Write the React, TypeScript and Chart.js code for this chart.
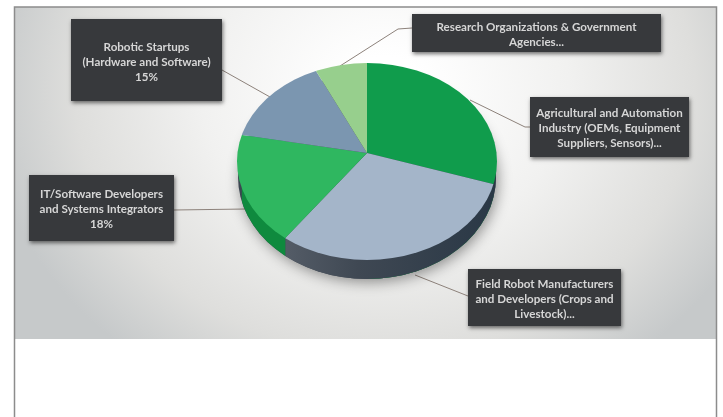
import React, { useEffect, useRef } from "react";
import { Chart, registerables } from "chart.js";

Chart.register(...registerables);

const categories = [
  "Agricultural and Automation Industry",
  "Field Robot Manufacturers and Developers",
  "IT/Software Developers and Systems Integrators",
  "Robotic Startups",
  "Research Organizations & Government Agencies",
];
const shares = [30, 30, 18, 15, 7];
const sliceColors = ["#109c4c", "#a4b5c9", "#2fb760", "#7b96b0", "#97cf8d"];

const agriLines = ["Agricultural and Automation", "Industry (OEMs, Equipment", "Suppliers, Sensors)..."];
const fieldLines = ["Field Robot Manufacturers", "and Developers (Crops and", "Livestock)..."];
const itLines = ["IT/Software Developers", "and Systems Integrators", "18%"];
const startupLines = ["Robotic Startups", "(Hardware and Software)", "15%"];
const researchLines = ["Research Organizations & Government", "Agencies..."];

const callouts = [
  { lines: agriLines, box: [530, 97, 159, 60], firstBase: 117, wire: [[530, 127], [525, 127], [470, 100]] },
  { lines: fieldLines, box: [468, 269, 153, 57], firstBase: 288, wire: [[468, 296], [415, 275]] },
  { lines: itLines, box: [29, 175, 145, 66], firstBase: 198, wire: [[174, 210], [246, 209]] },
  { lines: startupLines, box: [71, 19, 151, 82], firstBase: 51, wire: [[222, 70], [270, 97]] },
  { lines: researchLines, box: [412, 14, 249, 38], firstBase: 31, wire: [[412, 28], [398, 29], [340, 66]] },
];

const FACE = { dy: 8.5, rx: 130, ry: 98.5 };
const BASE = { dy: 24, rx: 129, ry: 102 };
const SQUASH = 0.757;

const pie3d = {
  id: "pie3d",
  beforeDraw(chart: any) {
    const { ctx } = chart;
    ctx.save();
    ctx.fillStyle = "#ffffff";
    ctx.fillRect(0, 0, 723, 417);
    ctx.save();
    ctx.beginPath();
    ctx.rect(15, 7, 702, 332);
    ctx.clip();
    ctx.translate(385, 90);
    ctx.scale(1, 0.85);
    const g = ctx.createRadialGradient(0, 0, 40, 0, 0, 400);
    g.addColorStop(0, "#ffffff");
    g.addColorStop(0.4, "#f1f1f0");
    g.addColorStop(0.75, "#dededc");
    g.addColorStop(1, "#c6c9ca");
    ctx.fillStyle = g;
    ctx.fillRect(-500, -400, 1000, 1000);
    ctx.restore();
    ctx.strokeStyle = "#8c8c8c";
    ctx.lineWidth = 1.5;
    ctx.beginPath();
    ctx.moveTo(14.5, 417);
    ctx.lineTo(14.5, 7);
    ctx.lineTo(716.5, 7);
    ctx.lineTo(716.5, 417);
    ctx.stroke();
    ctx.strokeStyle = "#8d827b";
    ctx.lineWidth = 1;
    callouts.forEach((c) => {
      ctx.beginPath();
      c.wire.forEach(([x, y], i) => (i ? ctx.lineTo(x, y) : ctx.moveTo(x, y)));
      ctx.stroke();
    });
    ctx.restore();
  },
  beforeDatasetsDraw(chart: any) {
    const { ctx } = chart;
    const arcs = chart.getDatasetMeta(0).data;
    const { x: cx, y: cy } = arcs[0];
    const faceY = cy + FACE.dy;
    const baseY = cy + BASE.dy;

    const rim = (a: number) => {
      const dx = Math.cos(a);
      const dy = SQUASH * Math.sin(a);
      const A = (dx * dx) / (FACE.rx * FACE.rx) + (dy * dy) / (FACE.ry * FACE.ry);
      const B = (2 * dy * -FACE.dy) / (FACE.ry * FACE.ry);
      const C = (FACE.dy * FACE.dy) / (FACE.ry * FACE.ry) - 1;
      const t = (-B + Math.sqrt(B * B - 4 * A * C)) / (2 * A);
      return { x: cx + dx * t, y: cy + dy * t };
    };

    ctx.save();
    ctx.shadowColor = "rgba(0,0,0,0.42)";
    ctx.shadowBlur = 14;
    ctx.shadowOffsetX = 2;
    ctx.shadowOffsetY = 3;
    ctx.fillStyle = "#3c4651";
    ctx.beginPath();
    ctx.ellipse(cx, baseY, BASE.rx, BASE.ry, 0, 0, Math.PI * 2);
    ctx.fill();
    ctx.restore();

    arcs.forEach((arc: any, i: number) => {
      const p0 = rim(arc.startAngle);
      const p1 = rim(arc.endAngle);
      if (p0.y < faceY && p1.y < faceY) return;
      const left = Math.min(p0.x, p1.x);
      const right = Math.max(p0.x, p1.x);
      ctx.save();
      ctx.beginPath();
      ctx.rect(left, 0, right - left + (i === 1 ? 6 : 0), 417);
      ctx.clip();
      let fill: any = "#0f8a3e";
      if (i === 1) {
        fill = ctx.createLinearGradient(left, 0, right, 0);
        fill.addColorStop(0, "#545c67");
        fill.addColorStop(0.35, "#3f4853");
        fill.addColorStop(1, "#2a3846");
      }
      ctx.fillStyle = fill;
      ctx.beginPath();
      ctx.ellipse(cx, baseY, BASE.rx, BASE.ry, 0, 0, Math.PI * 2);
      ctx.fill();
      ctx.restore();
    });

    ctx.save();
    ctx.beginPath();
    ctx.ellipse(cx, faceY, FACE.rx, FACE.ry, 0, 0, Math.PI * 2);
    ctx.clip();
    ctx.translate(cx, cy);
    ctx.scale(1, SQUASH);
    ctx.translate(-cx, -cy);
  },
  afterDatasetsDraw(chart: any) {
    chart.ctx.restore();
  },
  afterDraw(chart: any) {
    const { ctx } = chart;
    ctx.save();
    callouts.forEach((c) => {
      const [x, y, w, h] = c.box;
      ctx.save();
      ctx.shadowColor = "rgba(0,0,0,0.55)";
      ctx.shadowBlur = 4;
      ctx.shadowOffsetX = 1;
      ctx.shadowOffsetY = 2;
      ctx.fillStyle = "#37393c";
      ctx.fillRect(x, y, w, h);
      ctx.restore();
      ctx.fillStyle = "#d6d6d6";
      ctx.font = "bold 11.6px Lato, 'Open Sans', sans-serif";
      ctx.textAlign = "center";
      ctx.textBaseline = "alphabetic";
      c.lines.forEach((line, i) => ctx.fillText(line, x + w / 2, c.firstBase + i * 15));
    });
    ctx.restore();
  },
};

export default function App() {
  const ref = useRef<HTMLCanvasElement>(null);
  useEffect(() => {
    const chart = new Chart(ref.current!, {
      type: "pie",
      data: {
        labels: categories,
        datasets: [{ data: shares, backgroundColor: sliceColors, borderWidth: 0, clip: false } as any],
      },
      options: {
        responsive: false,
        animation: false,
        layout: { padding: { left: 217, right: 206, top: 3, bottom: 114 } },
        plugins: { legend: { display: false }, tooltip: { enabled: false } },
      },
      plugins: [pie3d],
    });
    return () => chart.destroy();
  }, []);
  return (
    <div style={{ position: "absolute", left: 0, top: 0, width: 723, height: 417, overflow: "hidden" }}>
      <canvas ref={ref} width={723} height={417} style={{ display: "block", filter: "blur(0.45px)" }} />
    </div>
  );
}
